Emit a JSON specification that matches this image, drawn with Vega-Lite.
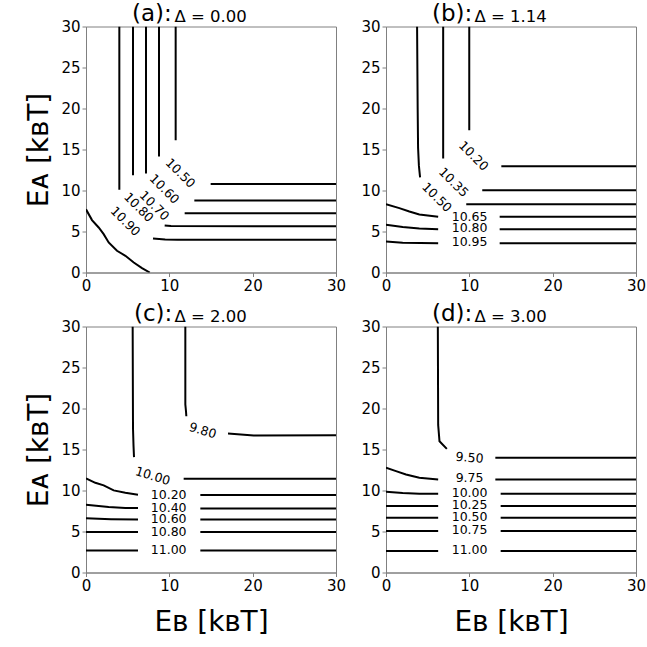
{
  "$schema": "https://vega.github.io/schema/vega-lite/v6.json",
  "background": "white",
  "padding": {"left": 25, "top": 1.5, "right": 5, "bottom": 5},
  "datasets": {
    "lines": [
      {"p":"a","s":1,"o":0,"x":10.76,"y":30},{"p":"a","s":1,"o":1,"x":10.76,"y":16.14},
      {"p":"a","s":2,"o":0,"x":14.96,"y":10.8},{"p":"a","s":2,"o":1,"x":30,"y":10.8},
      {"p":"a","s":3,"o":0,"x":8.76,"y":30},{"p":"a","s":3,"o":1,"x":8.76,"y":14.15},
      {"p":"a","s":4,"o":0,"x":13.0,"y":8.78},{"p":"a","s":4,"o":1,"x":30,"y":8.78},
      {"p":"a","s":5,"o":0,"x":7.2,"y":30},{"p":"a","s":5,"o":1,"x":7.2,"y":12.07},
      {"p":"a","s":6,"o":0,"x":11.84,"y":7.24},{"p":"a","s":6,"o":1,"x":30,"y":7.24},
      {"p":"a","s":7,"o":0,"x":5.64,"y":30},{"p":"a","s":7,"o":1,"x":5.64,"y":11.87},
      {"p":"a","s":8,"o":0,"x":9.44,"y":5.73},{"p":"a","s":8,"o":1,"x":10.2,"y":5.66},{"p":"a","s":8,"o":2,"x":30,"y":5.65},
      {"p":"a","s":9,"o":0,"x":4.0,"y":30},{"p":"a","s":9,"o":1,"x":4.0,"y":10.08},
      {"p":"a","s":10,"o":0,"x":8.04,"y":4.14},{"p":"a","s":10,"o":1,"x":9.5,"y":4.02},{"p":"a","s":10,"o":2,"x":11,"y":3.98},{"p":"a","s":10,"o":3,"x":30,"y":3.98},
      {"p":"a","s":11,"o":0,"x":0,"y":7.7},{"p":"a","s":11,"o":1,"x":0.72,"y":6.39},{"p":"a","s":11,"o":2,"x":1.52,"y":5.49},{"p":"a","s":11,"o":3,"x":2.12,"y":4.68},{"p":"a","s":11,"o":4,"x":2.72,"y":3.66},{"p":"a","s":11,"o":5,"x":3.72,"y":2.65},{"p":"a","s":11,"o":6,"x":4.73,"y":2.04},{"p":"a","s":11,"o":7,"x":5.73,"y":1.22},{"p":"a","s":11,"o":8,"x":6.72,"y":0.54},{"p":"a","s":11,"o":9,"x":7.65,"y":0},

      {"p":"b","s":1,"o":0,"x":9.99,"y":30},{"p":"b","s":1,"o":1,"x":9.99,"y":17.36},
      {"p":"b","s":2,"o":0,"x":13.84,"y":12.97},{"p":"b","s":2,"o":1,"x":30,"y":12.97},
      {"p":"b","s":3,"o":0,"x":6.86,"y":30},{"p":"b","s":3,"o":1,"x":6.86,"y":13.9},
      {"p":"b","s":4,"o":0,"x":11.55,"y":10.04},{"p":"b","s":4,"o":1,"x":30,"y":10.04},
      {"p":"b","s":5,"o":0,"x":3.73,"y":30},{"p":"b","s":5,"o":1,"x":3.8,"y":20},{"p":"b","s":5,"o":2,"x":3.85,"y":15.2},{"p":"b","s":5,"o":3,"x":3.95,"y":13},{"p":"b","s":5,"o":4,"x":4.09,"y":11.59},
      {"p":"b","s":6,"o":0,"x":9.63,"y":8.33},{"p":"b","s":6,"o":1,"x":30,"y":8.33},
      {"p":"b","s":7,"o":0,"x":0,"y":8.33},{"p":"b","s":7,"o":1,"x":1.6,"y":7.85},{"p":"b","s":7,"o":2,"x":2.8,"y":7.44},{"p":"b","s":7,"o":3,"x":4.0,"y":7.07},{"p":"b","s":7,"o":4,"x":6.26,"y":6.79},
      {"p":"b","s":8,"o":0,"x":13.64,"y":6.79},{"p":"b","s":8,"o":1,"x":30,"y":6.79},
      {"p":"b","s":9,"o":0,"x":0,"y":5.81},{"p":"b","s":9,"o":1,"x":2.0,"y":5.55},{"p":"b","s":9,"o":2,"x":4.0,"y":5.37},{"p":"b","s":9,"o":3,"x":6.26,"y":5.28},
      {"p":"b","s":10,"o":0,"x":13.64,"y":5.28},{"p":"b","s":10,"o":1,"x":30,"y":5.28},
      {"p":"b","s":11,"o":0,"x":0,"y":3.78},{"p":"b","s":11,"o":1,"x":2.0,"y":3.62},{"p":"b","s":11,"o":2,"x":6.26,"y":3.58},
      {"p":"b","s":12,"o":0,"x":13.64,"y":3.58},{"p":"b","s":12,"o":1,"x":30,"y":3.58},

      {"p":"c","s":1,"o":0,"x":11.92,"y":30},{"p":"c","s":1,"o":1,"x":11.92,"y":20.5},{"p":"c","s":1,"o":2,"x":12.0,"y":19.66},{"p":"c","s":1,"o":3,"x":12.04,"y":19.05},
      {"p":"c","s":2,"o":0,"x":17.04,"y":16.94},{"p":"c","s":2,"o":1,"x":20.12,"y":16.7},{"p":"c","s":2,"o":2,"x":30,"y":16.74},
      {"p":"c","s":3,"o":0,"x":5.6,"y":30},{"p":"c","s":3,"o":1,"x":5.64,"y":17.6},{"p":"c","s":3,"o":2,"x":5.7,"y":15.5},{"p":"c","s":3,"o":3,"x":5.76,"y":14.07},
      {"p":"c","s":4,"o":0,"x":11.72,"y":11.43},{"p":"c","s":4,"o":1,"x":30,"y":11.43},
      {"p":"c","s":5,"o":0,"x":0,"y":11.47},{"p":"c","s":5,"o":1,"x":1.12,"y":10.94},{"p":"c","s":5,"o":2,"x":2.12,"y":10.62},{"p":"c","s":5,"o":3,"x":3.32,"y":10.01},{"p":"c","s":5,"o":4,"x":4.72,"y":9.73},{"p":"c","s":5,"o":5,"x":6.24,"y":9.49},
      {"p":"c","s":6,"o":0,"x":13.72,"y":9.44},{"p":"c","s":6,"o":1,"x":30,"y":9.44},
      {"p":"c","s":7,"o":0,"x":0,"y":8.27},{"p":"c","s":7,"o":1,"x":2.72,"y":7.99},{"p":"c","s":7,"o":2,"x":4.72,"y":7.86},{"p":"c","s":7,"o":3,"x":6.24,"y":7.86},
      {"p":"c","s":8,"o":0,"x":13.72,"y":7.82},{"p":"c","s":8,"o":1,"x":30,"y":7.82},
      {"p":"c","s":9,"o":0,"x":0,"y":6.61},{"p":"c","s":9,"o":1,"x":3,"y":6.5},{"p":"c","s":9,"o":2,"x":6.24,"y":6.45},
      {"p":"c","s":10,"o":0,"x":13.72,"y":6.45},{"p":"c","s":10,"o":1,"x":30,"y":6.45},
      {"p":"c","s":11,"o":0,"x":0,"y":4.95},{"p":"c","s":11,"o":1,"x":6.24,"y":4.95},
      {"p":"c","s":12,"o":0,"x":13.72,"y":4.95},{"p":"c","s":12,"o":1,"x":30,"y":4.95},
      {"p":"c","s":13,"o":0,"x":0,"y":2.68},{"p":"c","s":13,"o":1,"x":6.24,"y":2.68},
      {"p":"c","s":14,"o":0,"x":13.72,"y":2.68},{"p":"c","s":14,"o":1,"x":30,"y":2.68},

      {"p":"d","s":1,"o":0,"x":6.22,"y":30},{"p":"d","s":1,"o":1,"x":6.26,"y":18.0},{"p":"d","s":1,"o":2,"x":6.42,"y":16.0},{"p":"d","s":1,"o":3,"x":7.3,"y":15.08},
      {"p":"d","s":2,"o":0,"x":13.12,"y":13.98},{"p":"d","s":2,"o":1,"x":30,"y":13.98},
      {"p":"d","s":3,"o":0,"x":0,"y":12.77},{"p":"d","s":3,"o":1,"x":1.2,"y":12.36},{"p":"d","s":3,"o":2,"x":2.4,"y":11.96},{"p":"d","s":3,"o":3,"x":4.0,"y":11.55},{"p":"d","s":3,"o":4,"x":6.26,"y":11.35},
      {"p":"d","s":4,"o":0,"x":13.12,"y":11.35},{"p":"d","s":4,"o":1,"x":30,"y":11.35},
      {"p":"d","s":5,"o":0,"x":0,"y":9.85},{"p":"d","s":5,"o":1,"x":2,"y":9.7},{"p":"d","s":5,"o":2,"x":4,"y":9.61},{"p":"d","s":5,"o":3,"x":6.26,"y":9.61},
      {"p":"d","s":6,"o":0,"x":13.76,"y":9.61},{"p":"d","s":6,"o":1,"x":30,"y":9.61},
      {"p":"d","s":7,"o":0,"x":0,"y":8.11},{"p":"d","s":7,"o":1,"x":6.26,"y":8.11},
      {"p":"d","s":8,"o":0,"x":13.76,"y":8.11},{"p":"d","s":8,"o":1,"x":30,"y":8.11},
      {"p":"d","s":9,"o":0,"x":0,"y":6.69},{"p":"d","s":9,"o":1,"x":6.26,"y":6.69},
      {"p":"d","s":10,"o":0,"x":13.76,"y":6.69},{"p":"d","s":10,"o":1,"x":30,"y":6.69},
      {"p":"d","s":11,"o":0,"x":0,"y":5.07},{"p":"d","s":11,"o":1,"x":6.26,"y":5.07},
      {"p":"d","s":12,"o":0,"x":13.76,"y":5.07},{"p":"d","s":12,"o":1,"x":30,"y":5.07},
      {"p":"d","s":13,"o":0,"x":0,"y":2.63},{"p":"d","s":13,"o":1,"x":6.26,"y":2.63},
      {"p":"d","s":14,"o":0,"x":13.76,"y":2.63},{"p":"d","s":14,"o":1,"x":30,"y":2.63}
    ],
    "labels": [
      {"p":"a","k":"diag","t":"10.50","x":11.32,"y":12.11},
      {"p":"a","k":"diag","t":"10.60","x":9.4,"y":10.16},
      {"p":"a","k":"diag","t":"10.70","x":8.2,"y":8.13},
      {"p":"a","k":"diag","t":"10.80","x":6.32,"y":7.93},
      {"p":"a","k":"diag","t":"10.90","x":4.72,"y":6.22},
      {"p":"b","k":"diag","t":"10.20","x":10.5,"y":14.2},
      {"p":"b","k":"diag","t":"10.35","x":8.1,"y":10.98},
      {"p":"b","k":"diag","t":"10.50","x":6.1,"y":9.15},
      {"p":"b","k":"flat","t":"10.65","x":10.03,"y":6.79},
      {"p":"b","k":"flat","t":"10.80","x":10.03,"y":5.37},
      {"p":"b","k":"flat","t":"10.95","x":10.03,"y":3.7},
      {"p":"c","k":"tilt","t":"9.80","x":14.0,"y":17.3},
      {"p":"c","k":"tilt","t":"10.00","x":8.0,"y":11.75},
      {"p":"c","k":"flat","t":"10.20","x":9.92,"y":9.44},
      {"p":"c","k":"flat","t":"10.40","x":9.92,"y":7.9},
      {"p":"c","k":"flat","t":"10.60","x":9.92,"y":6.49},
      {"p":"c","k":"flat","t":"10.80","x":9.92,"y":4.99},
      {"p":"c","k":"flat","t":"11.00","x":9.92,"y":2.72},
      {"p":"d","k":"slight","t":"9.50","x":10.03,"y":13.98},
      {"p":"d","k":"flat","t":"9.75","x":10.03,"y":11.47},
      {"p":"d","k":"flat","t":"10.00","x":10.03,"y":9.73},
      {"p":"d","k":"flat","t":"10.25","x":10.03,"y":8.23},
      {"p":"d","k":"flat","t":"10.50","x":10.03,"y":6.77},
      {"p":"d","k":"flat","t":"10.75","x":10.03,"y":5.15},
      {"p":"d","k":"flat","t":"11.00","x":10.03,"y":2.72}
    ]
  },
  "columns": 2,
  "spacing": {"row": 54, "column": 50},
  "bounds": "flush",
  "concat": [
    {
      "width": 250, "height": 246,
      "title": {"text": "(a):", "frame": "group", "anchor": "start", "align": "left", "dx": 46, "fontSize": 23, "fontWeight": "normal", "font": "DejaVu Sans", "baseline": "alphabetic", "offset": -35},
      "resolve": {"axis": {"x": "independent", "y": "independent"}},
      "layer": [
        {"data": {"name": "lines"}, "transform": [{"filter": "datum.p == 'a'"}],
         "mark": {"type": "line", "color": "black", "strokeWidth": 2, "clip": true},
         "encoding": {
           "x": {"field": "x", "type": "quantitative", "scale": {"domain": [0, 30], "nice": false, "zero": false}, "axis": {"values": [0, 10, 20, 30], "title": null}},
           "y": {"field": "y", "type": "quantitative", "scale": {"domain": [0, 30], "nice": false, "zero": false}, "axis": {"values": [0, 5, 10, 15, 20, 25, 30], "title": "Eᴀ [kʙT]"}},
           "detail": {"field": "s"}, "order": {"field": "o"}}},
        {"data": {"name": "labels"}, "transform": [{"filter": "datum.p == 'a' && datum.k == 'diag'"}],
         "mark": {"type": "text", "fontSize": 12.5, "font": "DejaVu Sans", "color": "black", "align": "center", "baseline": "middle", "angle": 45},
         "encoding": {
           "x": {"field": "x", "type": "quantitative", "axis": {"orient": "top", "title": "Δ = 0.00", "labels": false, "ticks": false, "domain": false, "titleFontSize": 16.5, "titleX": 88, "titleY": -5, "titleAlign": "left", "titleBaseline": "alphabetic"}},
           "y": {"field": "y", "type": "quantitative", "axis": null},
           "text": {"field": "t"}}}
      ]
    },
    {
      "width": 250, "height": 246,
      "title": {"text": "(b):", "frame": "group", "anchor": "start", "align": "left", "dx": 46, "fontSize": 23, "fontWeight": "normal", "font": "DejaVu Sans", "baseline": "alphabetic", "offset": -35},
      "resolve": {"axis": {"x": "independent", "y": "independent"}},
      "layer": [
        {"data": {"name": "lines"}, "transform": [{"filter": "datum.p == 'b'"}],
         "mark": {"type": "line", "color": "black", "strokeWidth": 2, "clip": true},
         "encoding": {
           "x": {"field": "x", "type": "quantitative", "scale": {"domain": [0, 30], "nice": false, "zero": false}, "axis": {"values": [0, 10, 20, 30], "title": null}},
           "y": {"field": "y", "type": "quantitative", "scale": {"domain": [0, 30], "nice": false, "zero": false}, "axis": {"values": [0, 5, 10, 15, 20, 25, 30], "title": null}},
           "detail": {"field": "s"}, "order": {"field": "o"}}},
        {"data": {"name": "labels"}, "transform": [{"filter": "datum.p == 'b' && datum.k == 'diag'"}],
         "mark": {"type": "text", "fontSize": 12.5, "font": "DejaVu Sans", "color": "black", "align": "center", "baseline": "middle", "angle": 45},
         "encoding": {
           "x": {"field": "x", "type": "quantitative", "axis": {"orient": "top", "title": "Δ = 1.14", "labels": false, "ticks": false, "domain": false, "titleFontSize": 16.5, "titleX": 88, "titleY": -5, "titleAlign": "left", "titleBaseline": "alphabetic"}},
           "y": {"field": "y", "type": "quantitative", "axis": null},
           "text": {"field": "t"}}},
        {"data": {"name": "labels"}, "transform": [{"filter": "datum.p == 'b' && datum.k == 'flat'"}],
         "mark": {"type": "text", "fontSize": 12.5, "font": "DejaVu Sans", "color": "black", "align": "center", "baseline": "middle"},
         "encoding": {
           "x": {"field": "x", "type": "quantitative", "axis": null},
           "y": {"field": "y", "type": "quantitative", "axis": null},
           "text": {"field": "t"}}}
      ]
    },
    {
      "width": 250, "height": 246,
      "title": {"text": "(c):", "frame": "group", "anchor": "start", "align": "left", "dx": 48, "fontSize": 23, "fontWeight": "normal", "font": "DejaVu Sans", "baseline": "alphabetic", "offset": -35},
      "resolve": {"axis": {"x": "independent", "y": "independent"}},
      "layer": [
        {"data": {"name": "lines"}, "transform": [{"filter": "datum.p == 'c'"}],
         "mark": {"type": "line", "color": "black", "strokeWidth": 2, "clip": true},
         "encoding": {
           "x": {"field": "x", "type": "quantitative", "scale": {"domain": [0, 30], "nice": false, "zero": false}, "axis": {"values": [0, 10, 20, 30], "title": "Eʙ [kʙT]"}},
           "y": {"field": "y", "type": "quantitative", "scale": {"domain": [0, 30], "nice": false, "zero": false}, "axis": {"values": [0, 5, 10, 15, 20, 25, 30], "title": "Eᴀ [kʙT]"}},
           "detail": {"field": "s"}, "order": {"field": "o"}}},
        {"data": {"name": "labels"}, "transform": [{"filter": "datum.p == 'c' && datum.k == 'tilt'"}],
         "mark": {"type": "text", "fontSize": 12.5, "font": "DejaVu Sans", "color": "black", "align": "center", "baseline": "middle", "angle": 17},
         "encoding": {
           "x": {"field": "x", "type": "quantitative", "axis": {"orient": "top", "title": "Δ = 2.00", "labels": false, "ticks": false, "domain": false, "titleFontSize": 16.5, "titleX": 88, "titleY": -5, "titleAlign": "left", "titleBaseline": "alphabetic"}},
           "y": {"field": "y", "type": "quantitative", "axis": null},
           "text": {"field": "t"}}},
        {"data": {"name": "labels"}, "transform": [{"filter": "datum.p == 'c' && datum.k == 'flat'"}],
         "mark": {"type": "text", "fontSize": 12.5, "font": "DejaVu Sans", "color": "black", "align": "center", "baseline": "middle"},
         "encoding": {
           "x": {"field": "x", "type": "quantitative", "axis": null},
           "y": {"field": "y", "type": "quantitative", "axis": null},
           "text": {"field": "t"}}}
      ]
    },
    {
      "width": 250, "height": 246,
      "title": {"text": "(d):", "frame": "group", "anchor": "start", "align": "left", "dx": 46, "fontSize": 23, "fontWeight": "normal", "font": "DejaVu Sans", "baseline": "alphabetic", "offset": -35},
      "resolve": {"axis": {"x": "independent", "y": "independent"}},
      "layer": [
        {"data": {"name": "lines"}, "transform": [{"filter": "datum.p == 'd'"}],
         "mark": {"type": "line", "color": "black", "strokeWidth": 2, "clip": true},
         "encoding": {
           "x": {"field": "x", "type": "quantitative", "scale": {"domain": [0, 30], "nice": false, "zero": false}, "axis": {"values": [0, 10, 20, 30], "title": "Eʙ [kʙT]"}},
           "y": {"field": "y", "type": "quantitative", "scale": {"domain": [0, 30], "nice": false, "zero": false}, "axis": {"values": [0, 5, 10, 15, 20, 25, 30], "title": null}},
           "detail": {"field": "s"}, "order": {"field": "o"}}},
        {"data": {"name": "labels"}, "transform": [{"filter": "datum.p == 'd' && datum.k == 'slight'"}],
         "mark": {"type": "text", "fontSize": 12.5, "font": "DejaVu Sans", "color": "black", "align": "center", "baseline": "middle", "angle": 5},
         "encoding": {
           "x": {"field": "x", "type": "quantitative", "axis": {"orient": "top", "title": "Δ = 3.00", "labels": false, "ticks": false, "domain": false, "titleFontSize": 16.5, "titleX": 88, "titleY": -5, "titleAlign": "left", "titleBaseline": "alphabetic"}},
           "y": {"field": "y", "type": "quantitative", "axis": null},
           "text": {"field": "t"}}},
        {"data": {"name": "labels"}, "transform": [{"filter": "datum.p == 'd' && datum.k == 'flat'"}],
         "mark": {"type": "text", "fontSize": 12.5, "font": "DejaVu Sans", "color": "black", "align": "center", "baseline": "middle"},
         "encoding": {
           "x": {"field": "x", "type": "quantitative", "axis": null},
           "y": {"field": "y", "type": "quantitative", "axis": null},
           "text": {"field": "t"}}}
      ]
    }
  ],
  "config": {
    "font": "DejaVu Sans",
    "view": {"stroke": "#808080", "strokeWidth": 1},
    "axis": {
      "grid": false, "domainColor": "#808080", "tickColor": "#808080", "tickSize": 4,
      "labelFont": "DejaVu Sans", "labelFontSize": 15, "labelColor": "black", "labelPadding": 2,
      "labelFlush": false, "labelOverlap": false,
      "titleFont": "DejaVu Sans", "titleFontWeight": "normal", "titleColor": "black", "titleFontSize": 28
    },
    "axisX": {"titlePadding": 15},
    "axisY": {"titlePadding": 7}
  }
}
